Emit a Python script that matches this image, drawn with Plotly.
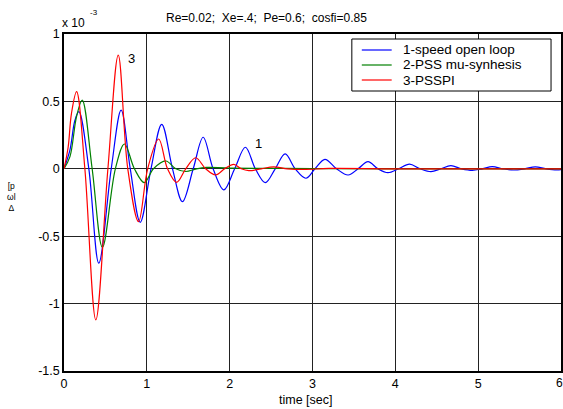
import plotly.graph_objects as go

# time [sec] and speed deviation (x 1e-3)
t_open = [0, 0.072, 0.132, 0.18, 0.30, 0.42, 0.57, 0.69, 0.80, 0.92, 1.05, 1.18, 1.31, 1.43, 1.56,
          1.68, 1.80, 1.93, 2.06, 2.19, 2.31, 2.43, 2.55, 2.67, 2.79, 2.92, 3.03, 3.15, 3.29,
          3.43, 3.55, 3.67, 3.79, 3.91, 4.04, 4.17, 4.30, 4.43, 4.55, 4.67, 4.80, 4.93, 5.05,
          5.17, 5.30, 5.43, 5.56, 5.69, 5.82, 5.95, 6.0]
v_open = [0, 0.14, 0.36, 0.424, 0, -0.70, 0, 0.436, 0, -0.397, 0, 0.33, 0, -0.244, 0,
          0.234, 0, -0.157, 0, 0.16, 0, -0.103, 0, 0.11, 0, -0.07, 0, 0.07, 0,
          -0.046, 0, 0.053, 0, -0.029, 0, 0.035, 0, -0.021, 0, 0.023, 0, -0.011, 0,
          0.016, 0, -0.009, 0, 0.015, 0, -0.008, -0.006]

t_mu = [0, 0.072, 0.152, 0.22, 0.34, 0.464, 0.62, 0.73, 0.85, 0.97, 1.08, 1.23, 1.35, 1.47,
        1.6, 1.72, 2.0, 3.0, 4.0, 5.0, 6.0]
v_mu = [0, 0.09, 0.39, 0.51, 0, -0.583, 0, 0.184, 0, -0.103, 0, 0.058, 0, -0.02,
        0, 0.01, 0.005, 0.002, 0.0, 0.0, 0.0]

t_pi = [0, 0.05, 0.09, 0.152, 0.252, 0.384, 0.53, 0.655, 0.77, 0.90, 1.01, 1.143, 1.25, 1.36,
        1.47, 1.59, 1.71, 1.83, 1.94, 2.05, 2.14, 2.23, 2.38, 2.53, 2.7, 2.9, 3.2, 4.0, 5.0, 6.0]
v_pi = [0, 0.16, 0.41, 0.572, 0, -1.12, 0, 0.844, 0, -0.392, 0, 0.221, 0, -0.10,
        0, 0.082, 0, -0.046, 0, 0.033, 0, -0.014, 0, 0.015, 0, -0.005, 0.003, 0.0, 0.0, 0.0]

names = ["1-speed open loop", "2-PSS mu-synhesis", "3-PSSPI"]
colors = ["#0000ff", "#008000", "#ff0000"]

y_ticks = [1, 0.5, 0, -0.5, -1, -1.5]
y_labels = ["1", "0.5", "0", "-0.5", "-1", "-1.5"]
x_ticks = [0, 1, 2, 3, 4, 5, 6]
x_labels = ["0", "1", "2", "3", "4", "5", "6"]

FONT = "Arial, Liberation Sans, sans-serif"

W, H = 563, 409
ml, mr, mt, mb = 64, 0, 34, 38
PW, PH = W - ml - mr, H - mt - mb


def px(x):
    return (x - ml) / PW


def py(y):
    return 1 - (y - mt) / PH


fig = go.Figure()
for t, v, n, c in zip([t_open, t_mu, t_pi], [v_open, v_mu, v_pi], names, colors):
    fig.add_trace(go.Scatter(x=t, y=v, mode="lines", name=n, showlegend=False,
                             line=dict(color=c, width=1.2, shape="spline", smoothing=1.0)))

annotations = [
    dict(text="Re=0.02;  Xe=.4;  Pe=0.6;  cosfi=0.85", x=px(267), y=py(18),
         xanchor="center", yanchor="middle", font=dict(size=12)),
    dict(text="x 10", x=px(60), y=py(23), xanchor="left", yanchor="middle", font=dict(size=12)),
    dict(text="-3", x=px(88), y=py(13), xanchor="left", yanchor="middle", font=dict(size=8)),
    dict(text="time [sec]", x=px(307), y=py(400), xanchor="center", yanchor="middle",
         font=dict(size=12.5)),
    dict(text="6", x=px(561), y=py(383), xanchor="center", yanchor="middle", font=dict(size=12)),
    dict(text="[p<br>ωl<br>Δ", x=px(11), y=py(197), xanchor="center", yanchor="middle",
         font=dict(size=8.5)),
]
for a in annotations:
    a.update(xref="paper", yref="paper", showarrow=False)

annotations += [
    dict(text="3", x=0.745, y=0.815, xref="x", yref="y", xanchor="left", yanchor="middle",
         showarrow=False, font=dict(size=13)),
    dict(text="1", x=2.28, y=0.19, xref="x", yref="y", xanchor="left", yanchor="middle",
         showarrow=False, font=dict(size=13)),
]

# manual legend (MATLAB style)
shapes = [dict(type="rect", xref="paper", yref="paper", x0=px(353), x1=px(553),
               y0=py(91), y1=py(39), line=dict(color="black", width=1), fillcolor="white",
               layer="above")]
for i, (n, c) in enumerate(zip(names, colors)):
    yy = 50 + 15 * i
    shapes.append(dict(type="line", xref="paper", yref="paper", x0=px(363), x1=px(393),
                       y0=py(yy), y1=py(yy), line=dict(color=c, width=1.2), layer="above"))
    annotations.append(dict(text=n, xref="paper", yref="paper", x=px(402), y=py(yy),
                            xanchor="left", yanchor="middle", showarrow=False,
                            font=dict(size=13.5)))

fig.update_layout(
    width=W, height=H,
    margin=dict(l=ml, r=mr, t=mt, b=mb),
    paper_bgcolor="white", plot_bgcolor="white",
    font=dict(family=FONT, size=12, color="black"),
    showlegend=False,
    xaxis=dict(range=[0, 6], tickvals=x_ticks, ticktext=x_labels,
               showgrid=True, gridcolor="#222222", gridwidth=1,
               showline=True, linecolor="black", linewidth=1.5, mirror=True,
               zeroline=False, ticks="", tickfont=dict(size=12.5)),
    yaxis=dict(range=[-1.5, 1], tickvals=y_ticks, ticktext=y_labels,
               showgrid=True, gridcolor="#222222", gridwidth=1,
               showline=True, linecolor="black", linewidth=1.5, mirror=True,
               zeroline=False, ticks="", tickfont=dict(size=12.5)),
    annotations=annotations,
    shapes=shapes,
)

fig.write_html("out.html")
